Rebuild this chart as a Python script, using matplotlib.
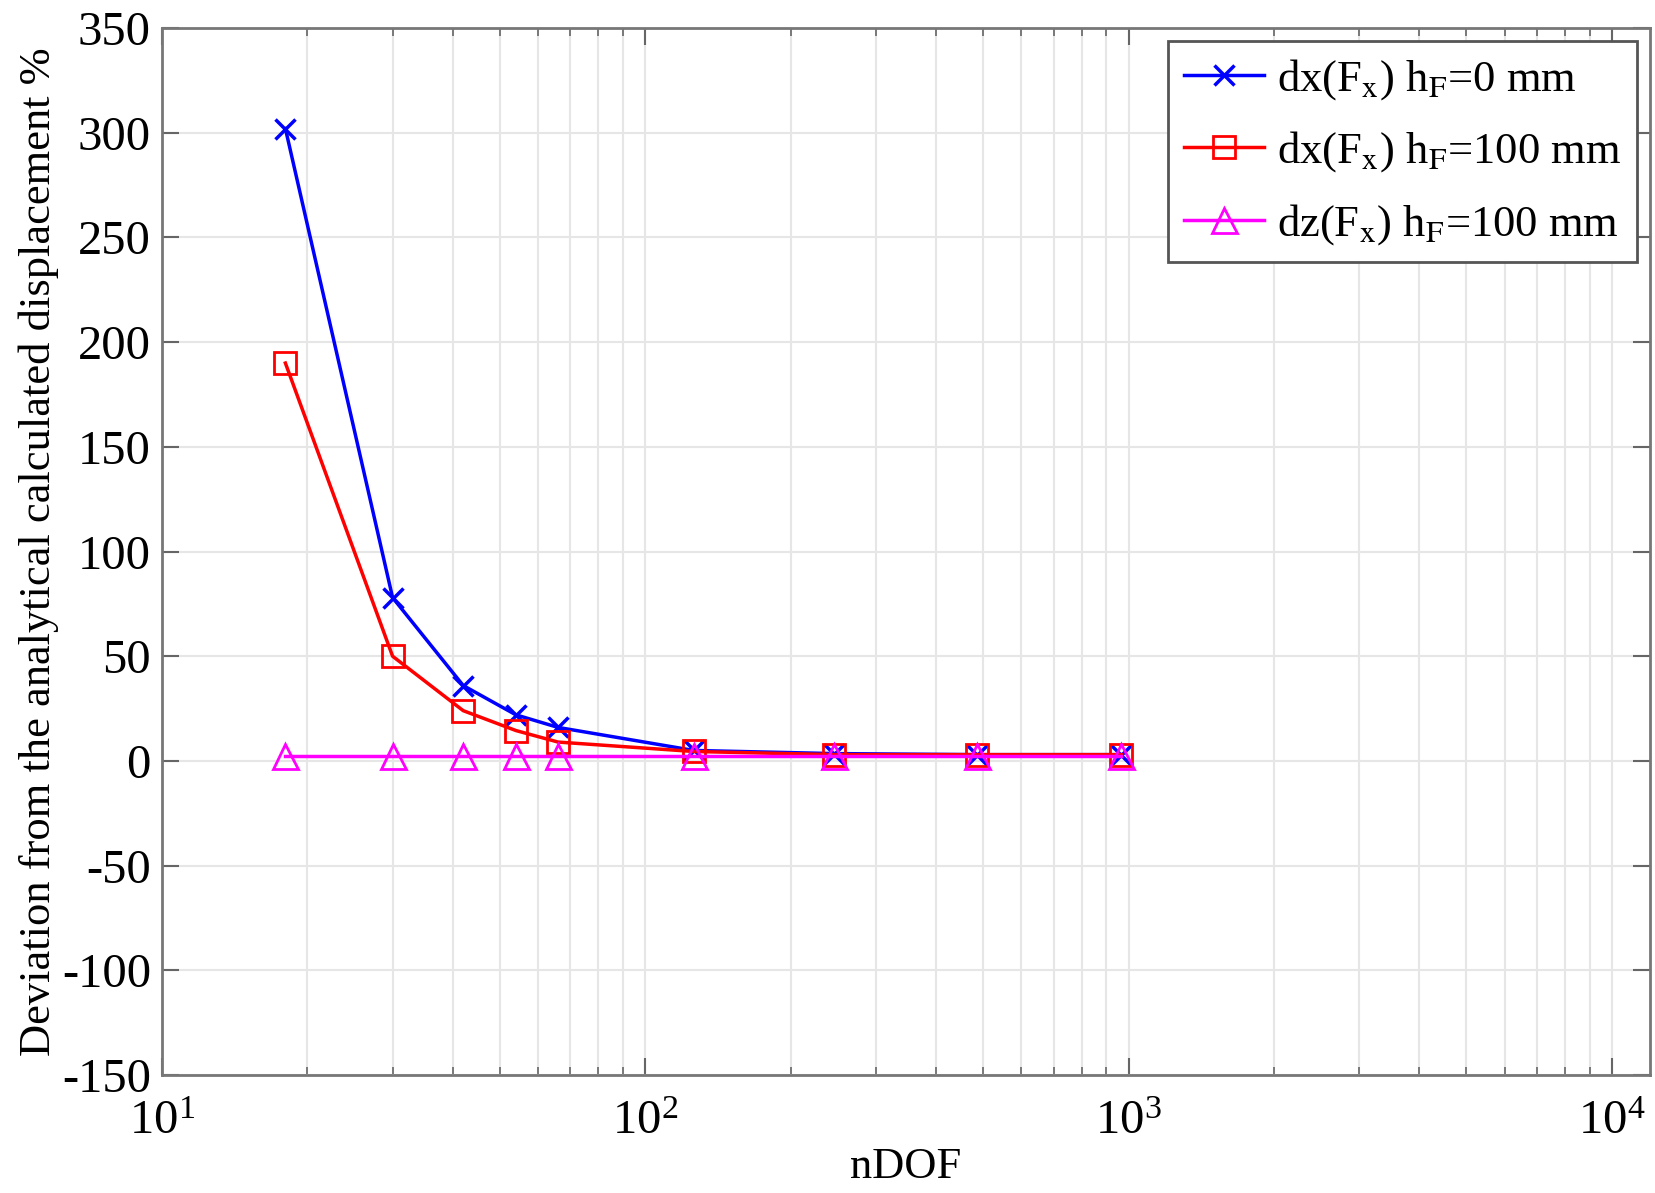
import matplotlib
matplotlib.use('Agg')
import matplotlib.pyplot as plt
from matplotlib.ticker import MultipleLocator

plt.rcParams['font.family'] = ['Liberation Serif', 'DejaVu Serif']
plt.rcParams['mathtext.fontset'] = 'stix'
plt.rcParams['axes.unicode_minus'] = False

# nDOF and deviation in %
ndof = [18, 30, 42, 54, 66, 126, 246, 486, 966]
dx_h0 = [302, 78, 36, 22, 16, 5, 3.5, 3, 3]
dx_h100 = [190, 50, 24, 14.5, 9, 4.5, 3, 3, 3]
dz_h100 = [2.5, 2.5, 2.5, 2.5, 2.5, 2.5, 2.5, 2.5, 2.5]

labels = [r'dx(F$_\mathrm{x}$) h$_\mathrm{F}$=0 mm',
          r'dx(F$_\mathrm{x}$) h$_\mathrm{F}$=100 mm',
          r'dz(F$_\mathrm{x}$) h$_\mathrm{F}$=100 mm']

fig = plt.figure(figsize=(16.55, 11.93), dpi=100)
ax = fig.add_axes([0.0979, 0.0989, 0.8991, 0.8776])

ax.semilogx(ndof, dx_h0, color='#0000ff', marker='x', markersize=15, mew=2.5, lw=2.5, label=labels[0])
ax.semilogx(ndof, dx_h100, color='#ff0000', marker='s', markersize=16, mew=2, lw=2.5, mfc='none', label=labels[1])
ax.semilogx(ndof, dz_h100, color='#ff00ff', marker='^', markersize=18, mew=2, lw=2.5, mfc='none', label=labels[2])

ax.set_xlim(10, 12000)
ax.set_ylim(-150, 350)
ax.yaxis.set_major_locator(MultipleLocator(50))

ax.grid(True, which='major', color='#e6e6e6', lw=1.5)
ax.grid(True, which='minor', axis='x', color='#e6e6e6', lw=1.5)
ax.set_axisbelow(True)

ax.tick_params(which='both', direction='in', top=True, right=True, labelsize=35, color='#666666')
ax.tick_params(which='major', length=12, width=1.5, pad=8)
ax.tick_params(axis='x', which='major', pad=18)
ax.tick_params(which='minor', length=6, width=1.2)
for s in ax.spines.values():
    s.set_color('#777777')
    s.set_linewidth(2)

ax.set_xlabel('nDOF', fontsize=32, labelpad=2)
ax.set_ylabel('Deviation from the analytical calculated displacement %', fontsize=32, labelpad=2)

leg = ax.legend(loc='upper right', fontsize=32, fancybox=False, framealpha=1,
                edgecolor='#555555', handlelength=1.8, handletextpad=0.3,
                borderaxespad=0.3, borderpad=0.35, labelspacing=0.62)
leg.get_frame().set_linewidth(2)

fig.savefig('out.png', dpi=100)
